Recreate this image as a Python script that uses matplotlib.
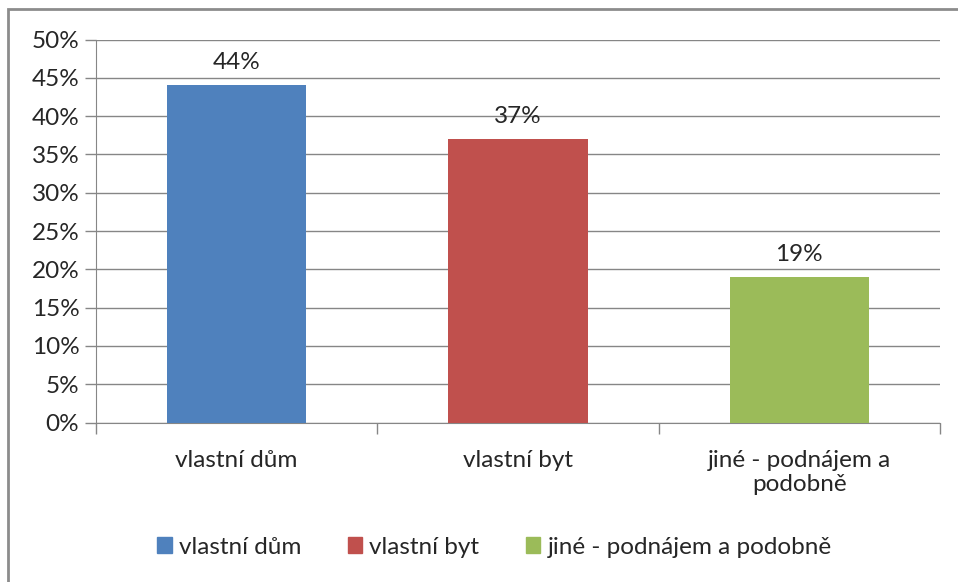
import matplotlib.pyplot as plt
from matplotlib.patches import Rectangle
from matplotlib.ticker import MultipleLocator, FuncFormatter

plt.rcParams['font.family'] = ['Lato', 'DejaVu Sans']

categories = ['vlastní dům', 'vlastní byt', 'jiné - podnájem a\npodobně']
legend_labels = ['vlastní dům', 'vlastní byt', 'jiné - podnájem a podobně']
values = [44, 37, 19]
colors = ['#4f81bd', '#c0504d', '#9bbb59']

GRID = '#868686'
TEXT = '#262626'
FS = 17.5


def main():
    fig = plt.figure(figsize=(9.58, 5.82), dpi=100)
    ax = fig.add_axes([96 / 958, 1 - 422.5 / 582, (940 - 96) / 958, (422.5 - 39.5) / 582])

    # chart frame: only top and left edges show inside the image
    fig.patches.append(Rectangle((8 / 958, -0.1), 1.2, 1.1 - 9 / 582,
                                 transform=fig.transFigure, fill=False,
                                 edgecolor='#8c8c8c', linewidth=2))

    x = range(len(categories))
    bars = ax.bar(x, values, width=0.495, color=colors, zorder=3)
    for b, v in zip(bars, values):
        ax.text(b.get_x() + b.get_width() / 2, v + 1.6, f'{v}%', ha='center',
                va='bottom', fontsize=FS, color=TEXT)

    ax.set_xlim(-0.5, len(categories) - 0.5)
    ax.set_ylim(0, 50)
    ax.yaxis.set_major_locator(MultipleLocator(5))
    ax.yaxis.set_major_formatter(FuncFormatter(lambda v, p: f'{v:.0f}%'))
    ax.grid(axis='y', color=GRID, linewidth=1, zorder=0)

    ax.set_xticks(list(x))
    ax.set_xticklabels(categories, fontsize=FS, color=TEXT, linespacing=1.15)
    ax.tick_params(axis='x', length=0, pad=20)
    ax.set_xticks([i - 0.5 for i in range(len(categories) + 1)], minor=True)
    ax.tick_params(axis='x', which='minor', length=8, color=GRID, width=1)
    ax.tick_params(axis='y', length=8, color=GRID, width=1, labelsize=FS,
                   labelcolor=TEXT, pad=4)

    for s in ['top', 'right']:
        ax.spines[s].set_visible(False)
    ax.spines['left'].set_color(GRID)
    ax.spines['bottom'].set_color(GRID)

    handles = [Rectangle((0, 0), 1, 1, color=c) for c in colors]
    fig.legend(handles, legend_labels, loc='center', bbox_to_anchor=(0.516, 1 - 547 / 582),
               ncol=3, frameon=False, fontsize=FS, handlelength=0.6, handleheight=0.6,
               handletextpad=0.3, columnspacing=1.9, labelcolor=TEXT)

    fig.savefig('out.png', dpi=100)
    plt.close(fig)


if __name__ == '__main__':
    main()
